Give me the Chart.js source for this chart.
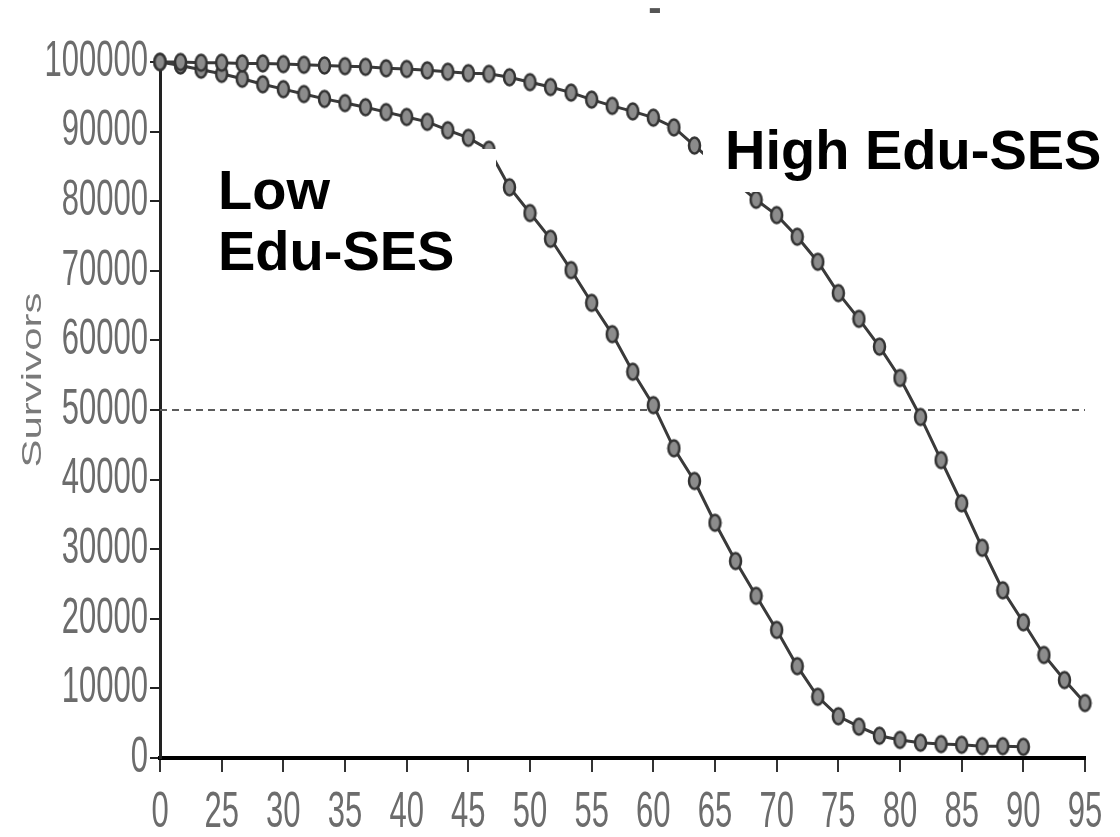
<!DOCTYPE html>
<html>
<head>
<meta charset="utf-8">
<script src="https://cdn.jsdelivr.net/npm/chart.js@4.4.1/dist/chart.umd.min.js"></script>
<style>
  html, body { margin: 0; padding: 0; background: #fff; }
  #wrap { width: 1120px; height: 837px; }
</style>
</head>
<body>
<div id="wrap"><canvas id="surv" width="1120" height="837"></canvas></div>
<script>
// Age tick labels along the x axis (three plotted steps between labels)
const tickLabels = ['0', '25', '30', '35', '40', '45', '50', '55', '60', '65', '70', '75', '80', '85', '90', '95'];
const stepsPerTick = 3;

// Survivors per step, high education / SES group
const highEduSES = [
  100000, 100000, 99900, 99900, 99800, 99800, 99700, 99600, 99500, 99400,
  99300, 99100, 99000, 98800, 98600, 98400, 98300, 97800, 97100, 96400,
  95600, 94600, 93700, 92900, 92000, 90600, 88000, 85400, 82700, 80200,
  78000, 74900, 71300, 66800, 63100, 59100, 54600, 49000, 42800, 36600,
  30200, 24100, 19500, 14800, 11200, 7900
];

// Survivors per step, low education / SES group
const lowEduSES = [
  100000, 99500, 98900, 98300, 97600, 96800, 96100, 95400, 94700, 94100,
  93500, 92800, 92100, 91400, 90200, 89100, 87400, 82000, 78300, 74600,
  70100, 65400, 60900, 55500, 50700, 44500, 39800, 33800, 28300, 23300,
  18400, 13200, 8800, 6000, 4500, 3200, 2600, 2200, 2000, 1900,
  1700, 1700, 1600
];

// Half of the starting cohort
const halfCohort = 50000;

const lastStep = (tickLabels.length - 1) * stepsPerTick;
const toPoints = arr => arr.map((v, i) => ({ x: i, y: v }));

// Upright oval marker
function makeMarker() {
  const c = document.createElement('canvas');
  c.width = 15; c.height = 21;
  const g = c.getContext('2d');
  g.beginPath();
  g.ellipse(7.5, 10.5, 5.5, 8, 0, 0, Math.PI * 2);
  g.fillStyle = '#8c8c8c';
  g.fill();
  g.lineWidth = 2.5;
  g.strokeStyle = '#333333';
  g.stroke();
  return c;
}
const marker = makeMarker();

const tickFont = '50px "Liberation Sans", Arial, sans-serif';
const tickColor = '#6c6c6c';

const decor = {
  id: 'decor',
  afterDatasetsDraw(chart) {
    const ctx = chart.ctx;
    ctx.save();
    // text boxes for the group labels
    ctx.fillStyle = '#ffffff';
    ctx.fillRect(703, 108, 417, 84);
    ctx.fillRect(196, 149, 300, 141);
    ctx.fillStyle = '#000000';
    ctx.font = 'bold 56px "Liberation Sans", Arial, sans-serif';
    ctx.textAlign = 'left';
    ctx.textBaseline = 'alphabetic';
    ctx.fillText('High Edu-SES', 725, 169);
    ctx.fillText('Low', 218, 209);
    ctx.fillText('Edu-SES', 218, 270);
    ctx.restore();
  },
  afterDraw(chart) {
    const ctx = chart.ctx;
    const xs = chart.scales.x, ys = chart.scales.y;
    ctx.save();
    ctx.fillStyle = tickColor;
    ctx.font = tickFont;
    // y tick labels, narrow lettering
    ys.ticks.forEach(t => {
      const py = ys.getPixelForValue(t.value);
      ctx.save();
      ctx.translate(148, py);
      ctx.scale(0.62, 1);
      ctx.textAlign = 'right';
      ctx.textBaseline = 'middle';
      ctx.fillText(t.label, 0, 0);
      ctx.restore();
    });
    // x tick labels
    xs.ticks.forEach(t => {
      const px = xs.getPixelForValue(t.value);
      ctx.save();
      ctx.translate(px, 813);
      ctx.scale(0.62, 1);
      ctx.textAlign = 'center';
      ctx.textBaseline = 'middle';
      ctx.fillText(t.label, 0, 0);
      ctx.restore();
    });
    // y axis title
    ctx.save();
    ctx.translate(33, 380);
    ctx.rotate(-Math.PI / 2);
    ctx.scale(1.5, 1);
    ctx.font = '28px "Liberation Sans", Arial, sans-serif';
    ctx.textAlign = 'center';
    ctx.textBaseline = 'middle';
    ctx.fillStyle = '#7a7a7a';
    ctx.fillText('Survivors', 0, 0);
    ctx.restore();
    // heading mark
    ctx.font = 'bold 40px "Liberation Sans", Arial, sans-serif';
    ctx.fillStyle = '#555555';
    ctx.textAlign = 'center';
    ctx.textBaseline = 'middle';
    ctx.fillText('-', 655, 10);
    ctx.restore();
  }
};

new Chart(document.getElementById('surv'), {
  type: 'line',
  data: {
    datasets: [
      {
        label: 'High Edu-SES',
        data: toPoints(highEduSES),
        borderColor: '#3a3a3a',
        borderWidth: 3,
        pointStyle: marker,
        pointRadius: 7,
        tension: 0,
        clip: false,
        order: 1
      },
      {
        label: 'Low Edu-SES',
        data: toPoints(lowEduSES),
        borderColor: '#3a3a3a',
        borderWidth: 3,
        pointStyle: marker,
        pointRadius: 7,
        tension: 0,
        clip: false,
        order: 1
      },
      {
        label: 'half',
        data: [{ x: 0, y: halfCohort }, { x: lastStep, y: halfCohort }],
        borderColor: '#5c5c5c',
        borderWidth: 2,
        borderDash: [7, 5],
        pointRadius: 0,
        order: 3
      }
    ]
  },
  options: {
    responsive: false,
    animation: false,
    events: [],
    layout: { padding: { top: 62, right: 35, left: 0, bottom: 0 } },
    plugins: { legend: { display: false }, title: { display: false }, tooltip: { enabled: false } },
    scales: {
      x: {
        type: 'linear',
        min: 0,
        max: lastStep,
        afterFit: s => { s.height = 79; },
        ticks: {
          stepSize: stepsPerTick,
          autoSkip: false,
          maxRotation: 0,
          color: 'rgba(0,0,0,0)',
          font: { size: 14 },
          callback: v => tickLabels[Math.round(v / stepsPerTick)]
        },
        grid: { drawOnChartArea: false, drawTicks: true, tickLength: 14, color: '#333', lineWidth: 2 },
        border: { display: true, color: '#000', width: 4 }
      },
      y: {
        min: 0,
        max: 100000,
        afterFit: s => { s.width = 160; },
        ticks: {
          stepSize: 10000,
          color: 'rgba(0,0,0,0)',
          font: { size: 14 },
          callback: v => String(v)
        },
        grid: { drawOnChartArea: false, drawTicks: true, tickLength: 10, color: '#222', lineWidth: 2 },
        border: { display: true, color: '#222', width: 3 }
      }
    }
  },
  plugins: [decor]
});
</script>
</body>
</html>
